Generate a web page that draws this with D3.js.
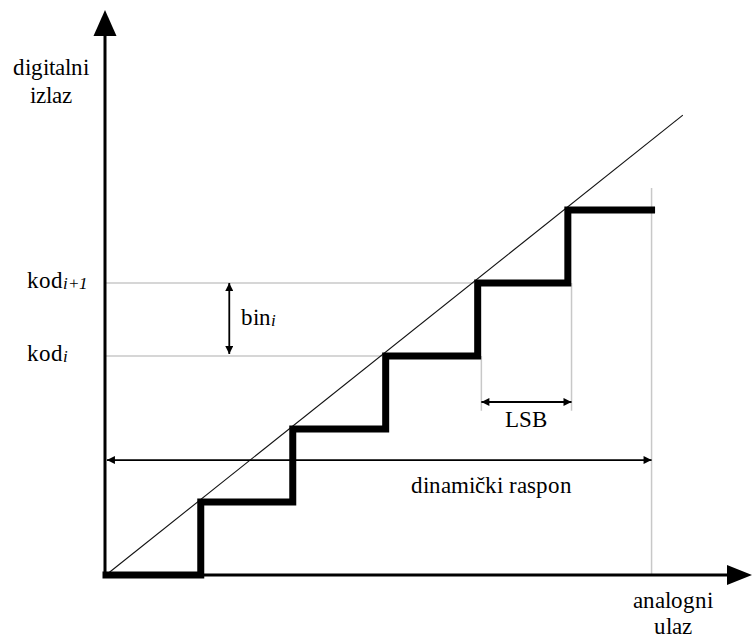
<!DOCTYPE html>
<html><head><meta charset="utf-8">
<script src="https://cdn.jsdelivr.net/npm/d3@7"></script>
<style>
@font-face { font-family: "ChartSerif"; src: local("Liberation Serif"), local("LiberationSerif"), local("Liberation Serif Regular"), local("LiberationSerif-Regular"); font-style: normal; font-weight: 400; }
@font-face { font-family: "ChartSerif"; src: local("Liberation Serif Italic"), local("LiberationSerif-Italic"); font-style: italic; font-weight: 400; }
</style>
</head>
<body style="margin:0"><svg id="c" width="752" height="638"></svg>
<script>
// ---- data (analog input in LSB units, digital output in codes) ----
const codes = [0, 1, 2, 3, 4, 5];
const transitions = [0, 1.03, 2.03, 3.04, 4.04, 5.02];   // analog input where each code starts
const rangeEnd = 5.93;                                   // end of dynamic range
const idealLine = [[0, 0], [6.27, 6.3]];                 // ideal transfer line
const codeLabels = [{code: 3, base: "kod", sub: "i"}, {code: 4, base: "kod", sub: "i+1"}];
const lsbBounds = [4.08, 5.06];
const axisLabelsY = ["digitalni", "izlaz"];
const axisLabelsX = ["analogni", "ulaz"];
const annotations = {bin: "bin", binSub: "i", lsb: "LSB", range: "dinamički raspon"};

const svg = d3.select("#c");
const x = d3.scaleLinear().domain([0, 7]).range([106, 750]);
const y = d3.scaleLinear().domain([0, 5]).range([575, 210]);

// markers
const defs = svg.append("defs");
defs.append("marker").attr("id", "ah").attr("viewBox", "0 0 10 10")
  .attr("refX", 10).attr("refY", 5).attr("markerWidth", 9).attr("markerHeight", 8)
  .attr("markerUnits", "userSpaceOnUse").attr("orient", "auto-start-reverse")
  .append("path").attr("d", "M0,0 L10,5 L0,10 Z").attr("fill", "#000");

// gray guide lines
const gray = "#c8c8c8";
codeLabels.forEach(d => {
  svg.append("line").attr("x1", x(0)).attr("x2", x(d.code))
    .attr("y1", y(d.code)).attr("y2", y(d.code))
    .attr("stroke", gray).attr("stroke-width", 1.5);
});
svg.append("line").attr("x1", x(rangeEnd)).attr("x2", x(rangeEnd))
  .attr("y1", y(5.3)).attr("y2", y(0)).attr("stroke", gray).attr("stroke-width", 1.5);
lsbBounds.forEach((b, i) => {
  svg.append("line").attr("x1", x(b)).attr("x2", x(b))
    .attr("y1", y(codes[3 + i])).attr("y2", y(2.25))
    .attr("stroke", gray).attr("stroke-width", 1.5);
});

// ideal line
svg.append("path").attr("d", d3.line().x(d => x(d[0])).y(d => y(d[1]))(idealLine))
  .attr("stroke", "#111").attr("stroke-width", 1.1).attr("fill", "none");

// axes
const ax0 = x(0) - 1, ay0 = y(0);
svg.append("line").attr("x1", ax0).attr("x2", ax0).attr("y1", ay0 + 2).attr("y2", 32)
  .attr("stroke", "#000").attr("stroke-width", 3);
svg.append("path").attr("d", `M${ax0},10 L${ax0 + 11.5},36 L${ax0 - 11.5},36 Z`).attr("fill", "#000");
svg.append("line").attr("x1", ax0 - 1.5).attr("x2", 730).attr("y1", ay0).attr("y2", ay0)
  .attr("stroke", "#000").attr("stroke-width", 3);
svg.append("path").attr("d", `M752,${ay0} L727,${ay0 - 10} L727,${ay0 + 10} Z`).attr("fill", "#000");

// staircase
const stepPts = [];
codes.forEach((c, i) => {
  const xs = transitions[i], xe = i < codes.length - 1 ? transitions[i + 1] : rangeEnd;
  stepPts.push([xs, c], [xe, c]);
});
svg.append("path").attr("d", d3.line().x(d => x(d[0])).y(d => y(d[1]))(stepPts))
  .attr("stroke", "#000").attr("stroke-width", 7).attr("fill", "none")
  .attr("stroke-linejoin", "miter").attr("stroke-linecap", "square");

// annotation arrows
function dbl(x1, y1, x2, y2) {
  svg.append("line").attr("x1", x1).attr("y1", y1).attr("x2", x2).attr("y2", y2)
    .attr("stroke", "#000").attr("stroke-width", 1.8)
    .attr("marker-start", "url(#ah)").attr("marker-end", "url(#ah)");
}
dbl(x(1.34), y(4), x(1.34), y(3) - 2);                  // bin_i
dbl(x(lsbBounds[0]), y(2.37), x(lsbBounds[1]), y(2.37)); // LSB
dbl(x(0.01), y(1.575), x(rangeEnd), y(1.575));           // dynamic range

// texts
const fs = 23;
const FAM = "ChartSerif, 'Liberation Serif', serif";
function txt(attrs) {
  const t = svg.append("text").style("font-family", FAM).style("font-size", fs + "px");
  Object.entries(attrs).forEach(([k, v]) => t.attr(k, v));
  return t;
}
const tY = txt({"text-anchor": "middle"});
tY.append("tspan").attr("x", 51).attr("y", 75).text(axisLabelsY[0]);
tY.append("tspan").attr("x", 51).attr("y", 103).text(axisLabelsY[1]);
const tX = txt({"text-anchor": "middle"});
tX.append("tspan").attr("x", 673).attr("y", 608).text(axisLabelsX[0]);
tX.append("tspan").attr("x", 673).attr("y", 634).text(axisLabelsX[1]);
codeLabels.forEach(d => {
  const t = txt({x: 27, y: y(d.code) + 5});
  t.append("tspan").text(d.base);
  t.append("tspan").style("font-style", "italic").style("font-size", "17px").attr("dy", 1).text(d.sub);
});
const tb = txt({x: 241, y: 325});
tb.append("tspan").text(annotations.bin);
tb.append("tspan").style("font-style", "italic").style("font-size", "17px").attr("dy", 1).text(annotations.binSub);
txt({x: (x(lsbBounds[0]) + x(lsbBounds[1])) / 2, y: 427, "text-anchor": "middle"}).text(annotations.lsb);
txt({x: 491, y: 493, "text-anchor": "middle"}).text(annotations.range);
</script></body></html>
